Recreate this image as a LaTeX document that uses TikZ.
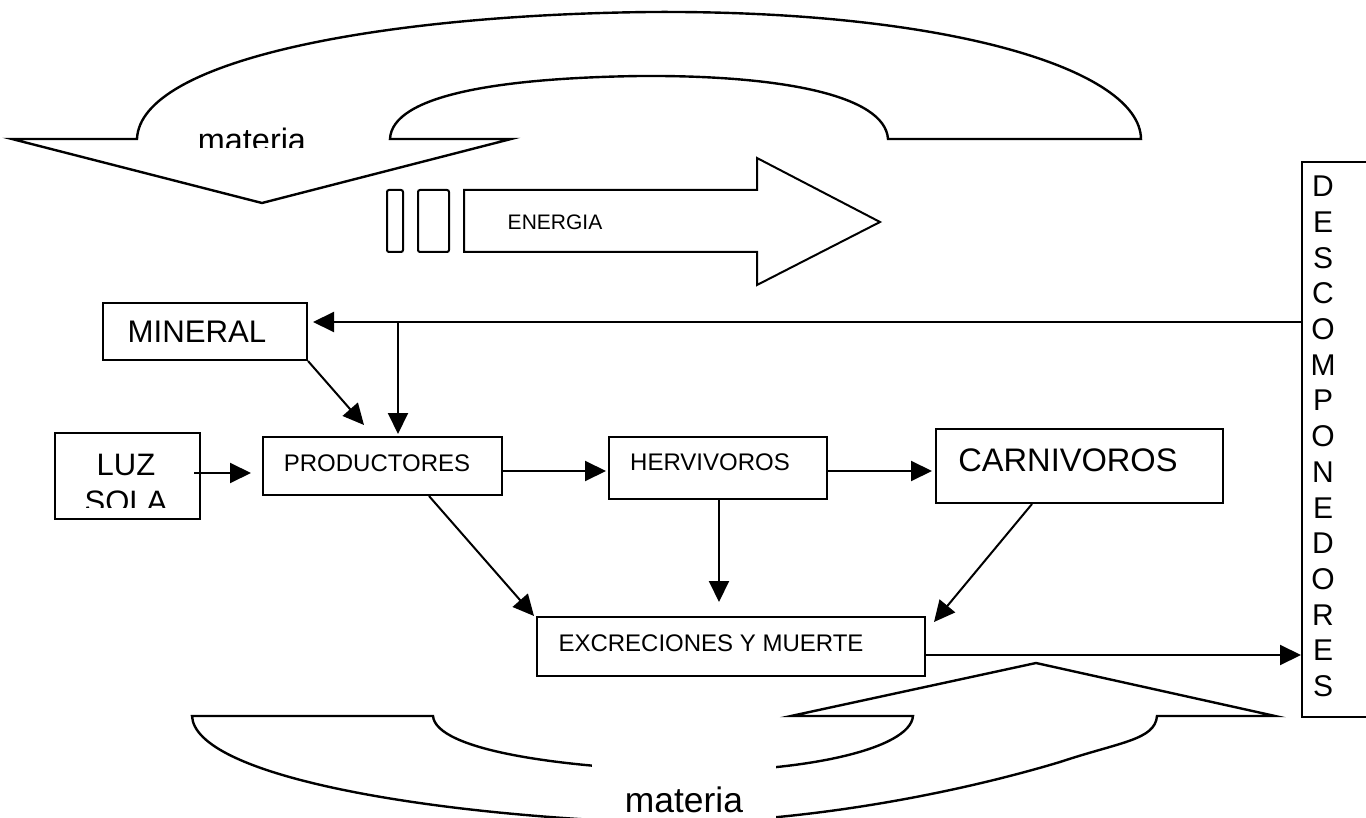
\documentclass[tikz,border=0pt]{standalone}
\usepackage{fontspec}
\setmainfont{Liberation Sans}
\usetikzlibrary{arrows.meta,calc}
\newcommand{\myfs}[1]{\fontsize{#1}{#1}\selectfont}
\begin{document}
\begin{tikzpicture}[x=0.5pt,y=-0.5pt,line width=1pt,
  box/.style={draw,rectangle,inner sep=0pt,line width=1pt},
  arr/.style={-{Triangle[length=10.5pt,width=10pt]},line width=1pt},
  shapeline/.style={line width=1.2pt,line join=miter}]
\useasboundingbox (0,0) rectangle (1366,818);
\clip (0,0) rectangle (1366,818);

% top "materia" arrow
\draw[shapeline] (12,139) -- (137,139)
  .. controls (140,60) and (380,15) .. (650,12)
  .. controls (950,10) and (1140,70) .. (1141,139)
  -- (888,139)
  .. controls (885,95) and (780,75) .. (640,76)
  .. controls (500,78) and (392,95) .. (390,139)
  -- (511,139) -- (262,203) -- cycle;
\begin{scope}
  \clip (150,100) rectangle (380,148);
  \node[anchor=base,inner sep=0pt,font=\myfs{16.2pt}] (mattop) at (252,152) {materia};
\end{scope}

% ENERGIA arrow
\draw[rounded corners=1pt] (387,190) rectangle (403,252);
\draw[rounded corners=1pt] (418,190) rectangle (449,252);
\draw[line join=miter] (464,190) -- (757,190) -- (757,158) -- (880,222) -- (757,285) -- (757,252) -- (464,252) -- cycle;
\node[font=\myfs{10.5pt}] (energia) at (555,222) {ENERGIA};

% bottom "materia" arrow
\draw[shapeline] (192,716) -- (433,716)
  .. controls (436,750) and (560,768) .. (690,771)
  .. controls (800,772) and (910,750) .. (913,716)
  -- (791,716) -- (1036,663) -- (1275,716) -- (1157,716)
  .. controls (1155,740) and (1120,742) .. (1060,762)
  .. controls (950,795) and (800,823) .. (660,823)
  .. controls (420,815) and (195,775) .. (192,716) -- cycle;
\node[fill=white,anchor=base,inner sep=0pt,text height=26pt,text depth=4pt,
      minimum width=92pt,font=\myfs{17.7pt}] (matbot) at (684,812) {materia};

% boxes
\node[box,minimum width=102pt,minimum height=28.5pt,font=\myfs{15.6pt}] (mineral) at (205,331.5) {\kern-8pt MINERAL};
\node[box,minimum width=72.5pt,minimum height=43pt] (luz) at (127.5,476) {};
\begin{scope}
  \clip (57,435) rectangle (198,507);
  \node[anchor=north,inner sep=0pt,align=center,font=\fontsize{15.5pt}{18.5pt}\selectfont] (luztext) at (126,453) {LUZ\\SOLA};
\end{scope}
\node[box,minimum width=119.5pt,minimum height=29pt,font=\myfs{12pt}] (prod) at (382.5,466) {\kern-5.5pt\raisebox{3pt}{PRODUCTORES}};
\node[box,minimum width=109pt,minimum height=31pt,font=\myfs{12pt}] (herv) at (718,468) {\kern-8pt\raisebox{6pt}{HERVIVOROS}};
\node[box,minimum width=143.5pt,minimum height=37pt,font=\myfs{16.3pt}] (carn) at (1079.5,466) {\kern-11.5pt\raisebox{6pt}{CARNIVOROS}};
\node[box,minimum width=194pt,minimum height=29.5pt,font=\myfs{12pt}] (excr) at (731,646.5) {\kern-20pt\raisebox{3.5pt}{EXCRECIONES Y MUERTE}};
\node[box,minimum width=64pt,minimum height=277.5pt,font=\fontsize{15pt}{17.85pt}\selectfont] (desc) at (1366,439.5)
  {\kern-43pt\begin{tabular}{@{}c@{}}D\\E\\S\\C\\O\\M\\P\\O\\N\\E\\D\\O\\R\\E\\S\end{tabular}};

% connectors
\coordinate (jm) at (398,322);
\coordinate (mp) at (364,425);
\draw[arr,shorten >=2.5pt] (desc.west |- jm) -- (mineral.east |- jm);
\draw[arr,shorten >=1pt] (jm) -- (jm |- prod.north);
\draw[arr] (mineral.south east) -- (mp);
\draw[arr] ($(luz.east)+(-7,-3)$) -- ($(luz.east -| prod.west)+(-11,-3)$);
\draw[arr] ($(prod.east)+(0,5)$) -- ($(herv.west)+(-2,3)$);
\draw[arr] ($(herv.east)+(0,3)$) -- ($(carn.west)+(-3,5)$);
\draw[arr] ($(prod.south west)+(167,0)$) -- ($(excr.north west)+(-2,0)$);
\draw[arr] ($(herv.south)+(1,0)$) -- ($(herv.south |- excr.north)+(1,-14)$);
\draw[arr] ($(carn.south west)+(97,0)$) -- ($(excr.north east)+(8,6)$);
\draw[arr] ($(excr.east)+(0,8.5)$) -- ($(excr.east -| desc.west)+(0,8.5)$);
\end{tikzpicture}
\end{document}
